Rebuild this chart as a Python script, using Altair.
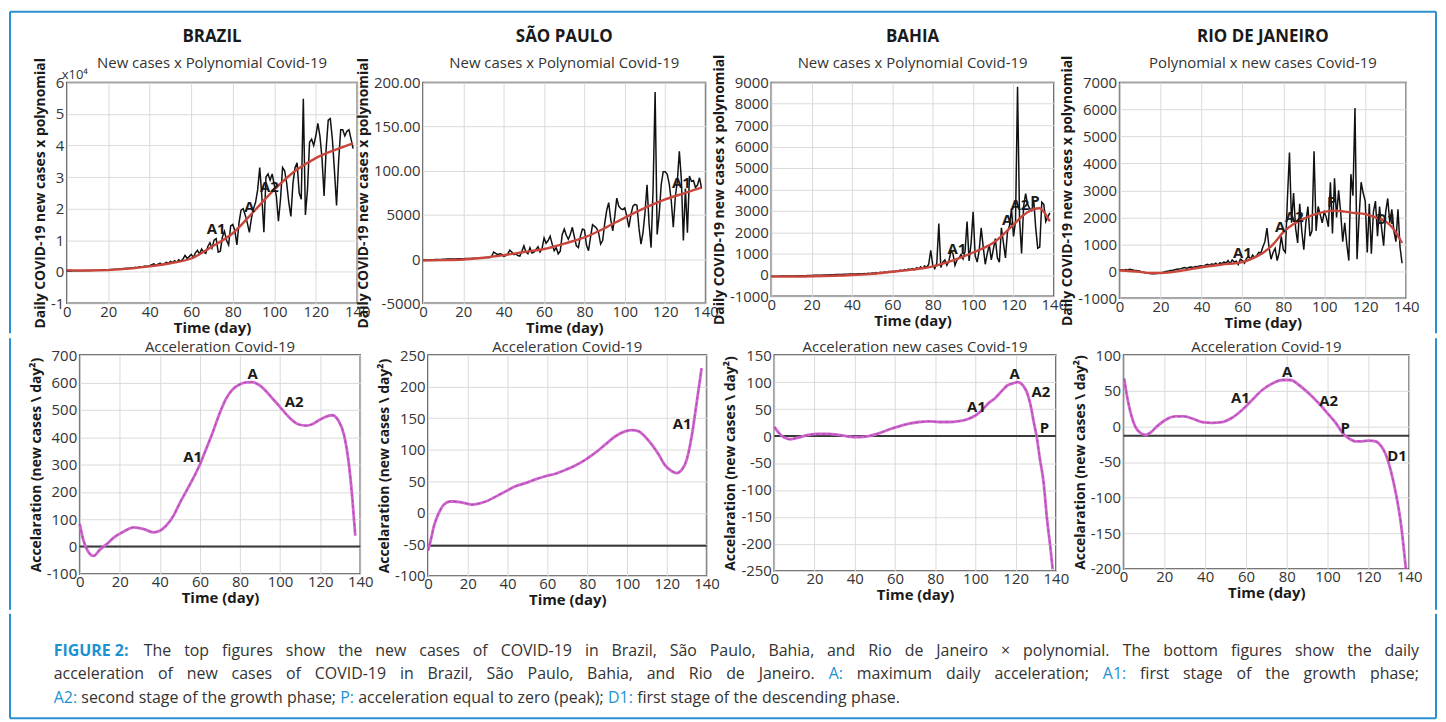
import altair as alt
import pandas as pd

FONT = "Open Sans"
TXT = "#333333"
INK = "#1a1a1a"
BLUE = "#1c92d2"
BORDER = "#2a8fd0"
MAG = "#d065d0"
RED = "#c9463d"
FRAME = "#4a4a4a"
GRID = "#dadada"

DAYS = list(range(139))
X_TICKS = [0, 20, 40, 60, 80, 100, 120, 140]

# ---------------- top row: daily new cases (black) and polynomial (red) ----------------
brazil_cases = [  # x10^4
    0.02, 0.02, 0.02, 0.03, 0.03, 0.03, 0.03, 0.03, 0.03, 0.04,
    0.04, 0.04, 0.04, 0.05, 0.05, 0.05, 0.05, 0.06, 0.06, 0.06,
    0.06, 0.07, 0.07, 0.08, 0.08, 0.09, 0.09, 0.10, 0.10, 0.11,
    0.11, 0.12, 0.12, 0.14, 0.13, 0.16, 0.15, 0.17, 0.18, 0.17,
    0.19, 0.22, 0.25, 0.21, 0.24, 0.27, 0.22, 0.26, 0.30, 0.27,
    0.33, 0.29, 0.35, 0.30, 0.38, 0.33, 0.40, 0.52, 0.42, 0.48,
    0.55, 0.45, 0.60, 0.68, 0.56, 0.72, 0.62, 0.58, 0.80, 0.92,
    0.75, 1.00, 1.05, 0.62, 0.65, 1.10, 1.28, 1.00, 0.85, 1.45,
    1.50, 1.30, 0.85, 1.55, 1.95, 2.00, 1.80, 1.55, 1.25, 1.70,
    2.00, 2.20, 2.60, 3.30, 2.40, 1.25, 3.00, 3.10, 2.90, 3.10,
    2.75, 2.40, 1.60, 2.30, 3.30, 3.20, 2.80, 2.20, 1.75, 2.80,
    3.30, 3.45, 2.50, 2.30, 5.48, 1.80, 2.60, 4.10, 4.20, 4.00,
    4.30, 4.70, 4.30, 3.60, 2.40, 3.90, 4.80, 4.85, 4.20, 3.20,
    2.10, 3.50, 4.50, 4.50, 4.30, 4.45, 4.50, 4.20, 3.90]
brazil_poly_days = [0, 10, 20, 30, 40, 50, 60, 70, 80, 90, 100, 110, 120, 130, 138]
brazil_poly = [0.05, 0.04, 0.05, 0.10, 0.17, 0.27, 0.42, 0.80, 1.22, 1.90, 2.60, 3.19, 3.60, 3.88, 4.07]

sp_cases = [
    -100, -100, -80, -80, -60, -60, -50, -40, -30, -30,
    -20, -10, 0, 0, 10, 20, 20, 30, 40, 50,
    50, 60, 70, 80, 80, 90, 100, 110, 120, 130,
    150, 170, 200, 150, 300, 800, 650, 500, 600, 550,
    300, 400, 600, 1000, 800, 500, 600, 400, 350, 900,
    1500, 800, 600, 1300, 700, 800, 1100, 1400, 800, 1200,
    2400, 1800, 2100, 2600, 1700, 950, 1300, 600, 900, 2800,
    3400, 2700, 2250, 2800, 3600, 2500, 1500, 1300, 2600, 3400,
    3300, 1600, 950, 2500, 3900, 3700, 3500, 3000, 1700, 2100,
    4000, 5500, 6400, 4500, 3200, 4800, 6900, 6000, 5700, 5600,
    5800, 4800, 3600, 5000, 6000, 6200, 6100, 3500, 1700, 3000,
    5300, 8400, 4000, 1300, 8000, 18900, 2800, 5000, 8400, 9900,
    9900, 9600, 8500, 6600, 3600, 7000, 8800, 12200, 9000, 2100,
    8000, 3000, 9400, 8800, 8900, 8100, 8400, 9200, 8000]
sp_poly_days = [0, 10, 20, 30, 40, 50, 60, 70, 80, 90, 100, 110, 120, 130, 138]
sp_poly = [-150, -120, -50, 150, 450, 800, 1150, 1750, 2450, 3500, 4700, 5800, 6750, 7500, 8100]

bahia_cases = [
    -60, -60, -60, -60, -60, -55, -55, -50, -50, -50,
    -50, -45, -45, -40, -40, -40, -35, -35, -30, -30,
    -25, -20, -20, -15, -10, -10, -5, 0, 0, 5,
    10, 10, 15, 20, 20, 25, 30, 30, 35, 40,
    40, 45, 50, 55, 60, 50, 70, 60, 80, 70,
    90, 80, 110, 90, 120, 100, 140, 120, 160, 150,
    170, 150, 200, 180, 230, 190, 250, 230, 280, 260,
    300, 240, 340, 280, 380, 300, 420, 350, 500, 1150,
    450, 300, 550, 2400, 350, 600, 700, 450, 650, 1100,
    1000, 450, 700, 800, 950, 750, 1100, 2500, 650, 1500,
    2950, 900, 600, 1150, 2200, 1300, 500, 1000, 1400, 700,
    1200, 1700, 800, 600, 2200, 1500, 800, 2000, 2300, 3100,
    1800, 2500, 8800, 2600, 1000, 3200, 3800, 3300, 3100, 3000,
    3500, 2200, 1250, 1300, 3400, 3300, 2500, 2700, 2900]
bahia_poly_days = [0, 20, 40, 50, 60, 70, 80, 90, 100, 110, 120, 125, 130, 133, 135, 138]
bahia_poly = [-80, -60, 0, 50, 150, 250, 400, 680, 1050, 1500, 2350, 2800, 3080, 3120, 2950, 2500]

rio_cases = [
    50, 60, 40, 70, 50, 80, 60, 40, 30, 20,
    0, -20, -40, -60, -70, -80, -90, -90, -80, -70,
    -60, -40, -20, 0, 10, 30, 40, 60, 80, 90,
    100, 120, 140, 110, 150, 160, 140, 180, 170, 200,
    210, 180, 240, 260, 220, 280, 250, 300, 230, 320,
    280, 350, 300, 400, 280, 420, 350, 380, 250, 450,
    400, 300, 480, 550, 450, 600, 520, 580, 700, 680,
    900, 1100, 1600, 900, 450, 700, 850, 400, 700, 1300,
    800, 700, 2700, 4400, 1800, 2900, 1600, 1050, 2500, 1500,
    800, 1800, 2400, 1300, 1500, 4450, 1500, 2400, 2100, 1800,
    2200, 2000, 1650, 3300, 1400, 3450, 2000, 3000, 2200, 1100,
    1800, 1000, 400, 3600, 2800, 6050, 450, 2000, 3300, 2900,
    2600, 700, 2500, 650, 2200, 2600, 1300, 2400, 1600, 950,
    2200, 2700, 1800, 2300, 1500, 1100, 2300, 900, 300]
rio_poly_days = [0, 10, 15, 20, 30, 40, 50, 60, 65, 70, 75, 80, 85, 90, 95, 100, 105, 110, 115, 120, 125, 130, 134, 138]
rio_poly = [30, -20, -60, -60, 20, 150, 250, 340, 480, 680, 1000, 1450, 1750, 1950, 2100, 2200, 2250, 2210, 2160, 2120, 2000, 1850, 1550, 1050]

# ---------------- bottom row: acceleration ----------------
brazil_acc_days = [0, 2, 4, 7, 10, 14, 17, 22, 27, 32, 37, 40, 43, 47, 50, 53, 57, 60, 63, 66, 70, 73, 76, 80, 83,
                   86, 90, 93, 96, 100, 103, 106, 109, 113, 116, 119, 123, 126, 129, 132, 134, 136, 137.5]
brazil_acc = [83, 20, -15, -34, -12, 12, 33, 55, 70, 64, 52, 58, 75, 115, 160, 200, 255, 300, 355, 410, 490, 540, 572, 593, 600,
              601, 588, 568, 543, 510, 484, 462, 447, 442, 447, 460, 475, 480, 462, 405, 320, 180, 40]

sp_acc_days = [0, 1.5, 3, 5.5, 8, 11, 13, 16, 19, 22, 26, 29, 33, 36, 39, 44, 49, 54, 59, 64,
               69, 74, 79, 84, 89, 94, 99, 102.5, 106, 109, 112.5, 116, 119, 122.5, 125, 127.5, 130, 132.5, 135, 137.5]
sp_acc = [-60, -42, -21, 0, 13, 18, 18, 17, 15, 13, 15, 18, 24, 29, 34, 42, 47, 53, 58, 62,
          68, 75, 84, 95, 108, 121, 129, 131, 129, 121, 108, 92, 76, 66, 63, 68, 84, 121, 174, 229]

bahia_acc_days = [0, 2.5, 5, 8, 12, 17, 22, 27, 32, 37, 42, 47, 52, 57, 62, 67, 72, 77, 82, 87,
                  91, 96, 100, 103, 106, 110, 113, 116, 119, 121, 124, 126, 127.5, 129, 130.5, 132, 134, 135.5, 137.5, 138.4]
bahia_acc = [17, 5, -3, -6, -3, 2, 4, 4, 2, -1, -2, 0, 5, 12, 18, 23, 26, 27, 26, 26,
             27, 31, 38, 47, 59, 71, 83, 94, 98, 100, 92, 77, 56, 26, -2, -41, -89, -150, -214, -247]

rio_acc_days = [0.3, 1.6, 3.3, 5.7, 8.2, 10.6, 13.1, 16.4, 20.5, 25.4, 29.5, 33.6, 38.5, 43.4, 48.3, 53.2, 58.1, 63, 68, 72.9,
                77.8, 81.9, 86, 90.9, 95.8, 100.7, 104, 107.3, 110.5, 113.8, 117.1, 120.4, 123.6, 126.1, 128.5, 131, 133.5, 135.9, 138.4]
rio_acc = [67, 44, 21, 0, -9, -12, -9, 0, 9, 14, 14, 11, 6, 5, 6, 12, 23, 37, 51, 60,
           65, 65, 58, 46, 32, 16, 5, -9, -17, -21, -21, -20, -21, -27, -39, -62, -94, -135, -200]

# black horizontal reference lines in the acceleration panels
acc_ref_lines = {"brazil": 0, "sp": -52, "bahia": 0, "rio": -13}

# ---------------- annotations (day, value, label) ----------------
brazil_top_notes = [(72, 1.36, "A1"), (88, 2.06, "A"), (97.6, 2.7, "A2")]
sp_top_notes = [(128, 8560, "A1")]
bahia_top_notes = [(92, 1220, "A1"), (116.8, 2560, "A"), (123.2, 3260, "A2"), (130.6, 3440, "P")]
rio_top_notes = [(60, 660, "A1"), (78.5, 1630, "A"), (85.4, 2000, "A2"), (103.6, 2580, "P"), (130, 1930, "D1")]
brazil_acc_notes = [(86.3, 629, "A"), (107, 530, "A2"), (56.4, 326, "A1")]
sp_acc_notes = [(127.7, 140, "A1")]
bahia_acc_notes = [(119.5, 114, "A"), (132.6, 81, "A2"), (100.5, 54, "A1"), (134.3, 14, "P")]
rio_acc_notes = [(80.2, 76, "A"), (57.3, 40, "A1"), (100.5, 36, "A2"), (108.7, -2, "P"), (134.1, -41, "D1")]

# ---------------- caption ----------------
CAPTION = [
    [("FIGURE 2:", "hlb"),
     ("The top figures show the new cases of COVID-19 in Brazil, São Paulo, Bahia, and Rio de Janeiro × polynomial. The bottom figures show the daily", "body")],
    [("acceleration of new cases of COVID-19 in Brazil, São Paulo, Bahia, and Rio de Janeiro.", "body"),
     ("A:", "hl"), ("maximum daily acceleration;", "body"), ("A1:", "hl"), ("first stage of the growth phase;", "body")],
    [("A2:", "hl"), ("second stage of the growth phase;", "body"), ("P:", "hl"),
     ("acceleration equal to zero (peak);", "body"), ("D1:", "hl"), ("first stage of the descending phase.", "body")],
]
JUSTIFY = [True, True, False]

# ======================================================================
AXIS_COMMON = dict(labelFont=FONT, labelFontSize=15, labelColor=TXT,
                   titleFont=FONT, titleFontWeight="bold", titleColor=INK,
                   grid=True, gridColor=GRID, gridWidth=1, domain=False, ticks=False,
                   labelFlush=False, labelOverlap=False, labelBound=False)
INT_EXPR = "datum.value < 0 ? '-' + abs(datum.value) : '' + datum.value"
SP_EXPR = "datum.value >= 10000 ? format(datum.value / 100, '.2f') : (" + INT_EXPR + ")"
ONE = pd.DataFrame({"k": [0]})


def encs(ydom, yticks, ytitle, label_expr=INT_EXPR):
    xa = alt.Axis(values=X_TICKS, title="Time (day)", labelPadding=1, titlePadding=1,
                  titleFontSize=15, labelExpr=INT_EXPR, **AXIS_COMMON)
    ya = alt.Axis(values=yticks, title=ytitle, labelPadding=3, titlePadding=3,
                  titleFontSize=14, labelExpr=label_expr, **AXIS_COMMON)
    x = alt.X("x:Q", scale=alt.Scale(domain=[0, 140], nice=False, zero=False), axis=xa)
    y = alt.Y("y:Q", scale=alt.Scale(domain=ydom, nice=False, zero=False), axis=ya)
    return x, y


def series(xs, ys, x, y, **mark):
    return alt.Chart(pd.DataFrame({"x": xs, "y": ys})).mark_line(**mark).encode(x=x, y=y)


def notes(items, x, y, **mark):
    df = pd.DataFrame(items, columns=["x", "y", "label"])
    style = dict(font=FONT, fontSize=15, fontWeight="bold", color=INK, baseline="middle")
    style.update(mark)
    return alt.Chart(df).mark_text(**style).encode(x=x, y=y, text="label:N")


def heading(text, x, ypx, **mark):
    # panel headings, centred on the middle of the day axis
    df = pd.DataFrame({"x": [70], "label": [text]})
    style = dict(font=FONT, fontSize=15, color=TXT, baseline="middle", align="center")
    style.update(mark)
    return alt.Chart(df).mark_text(**style).encode(x=x, y=alt.value(ypx), text="label:N")


def vrule(px, py0, py1):
    return alt.Chart(ONE).mark_rule(color=BORDER, strokeWidth=2).encode(
        x=alt.value(px), y=alt.value(py0), y2=alt.value(py1))


def hrule(px0, px1, py):
    return alt.Chart(ONE).mark_rule(color=BORDER, strokeWidth=2).encode(
        x=alt.value(px0), x2=alt.value(px1), y=alt.value(py))


def spacer(w, h):
    return alt.Chart(ONE).mark_rule(opacity=0).encode(
        x=alt.value(0), y=alt.value(0), y2=alt.value(1)
    ).properties(width=w, height=h, view=alt.ViewBackground(stroke="transparent"))


def top_panel(cases, pdays, poly, ydom, yticks, nts, region, sub, w, h, expr=INT_EXPR, extra=(), exp_note=None):
    x, y = encs(ydom, yticks, "Daily COVID-19 new cases x polynomial", expr)
    layers = [series(DAYS, cases, x, y, color="#111111", strokeWidth=1.5),
              series(pdays, poly, x, y, color=RED, strokeWidth=2.4, interpolate="monotone"),
              notes(nts, x, y),
              heading(region, x, -46, fontSize=17, fontWeight="bold", color=INK),
              heading(sub, x, -19)]
    if exp_note:
        layers.append(notes([exp_note], x, y, fontSize=13, fontWeight="normal", color=TXT,
                            align="left", dx=-5, dy=-7))
    layers += list(extra)
    return alt.layer(*layers).properties(width=w, height=h)


def bot_panel(adays, acc, ref, ydom, yticks, nts, title, w, h, extra=()):
    x, y = encs(ydom, yticks, "Accelaration (new cases \\ day²)")
    refline = alt.Chart(pd.DataFrame({"y": [ref]})).mark_rule(color="#3a3a3a", strokeWidth=2).encode(y=y)
    layers = [refline,
              series(adays, acc, x, y, color=MAG, strokeWidth=2.8, interpolate="monotone"),
              series(adays, acc, x, y, color="#5a235a", strokeWidth=0.8, strokeDash=[3, 3],
                     opacity=0.5, interpolate="monotone"),
              notes(nts, x, y),
              heading(title, x, -8)] + list(extra)
    return alt.layer(*layers).properties(width=w, height=h)


# ---------------- row 1 ----------------
r1 = [
    top_panel(brazil_cases, brazil_poly_days, brazil_poly, [-1, 6], list(range(-1, 7)), brazil_top_notes,
              "BRAZIL", "New cases x Polynomial Covid-19", 292, 222,
              extra=[hrule(-57, 1376, -71), vrule(-57, -71, 252)], exp_note=(0, 6, "x10⁴")),
    top_panel(sp_cases, sp_poly_days, sp_poly, [-5000, 20000], [-5000, 0, 5000, 10000, 15000, 20000], sp_top_notes,
              "SÃO PAULO", "New cases x Polynomial Covid-19", 284, 222, expr=SP_EXPR),
    top_panel(bahia_cases, bahia_poly_days, bahia_poly, [-1000, 9000], list(range(-1000, 9001, 1000)), bahia_top_notes,
              "BAHIA", "New cases x Polynomial Covid-19", 284, 215),
    top_panel(rio_cases, rio_poly_days, rio_poly, [-1000, 7000], list(range(-1000, 7001, 1000)), rio_top_notes,
              "RIO DE JANEIRO", "Polynomial x new cases Covid-19", 288, 217,
              extra=[vrule(318, -71, 252)]),
]
row1 = alt.hconcat(*r1, spacing=66, bounds="flush")

# ---------------- row 2 ----------------
r2 = [
    spacer(13, 220),
    bot_panel(brazil_acc_days, brazil_acc, acc_ref_lines["brazil"], [-100, 700], list(range(-100, 701, 100)),
              brazil_acc_notes, "Acceleration Covid-19", 282, 220, extra=[vrule(-70, -17, 256)]),
    spacer(68, 220),
    bot_panel(sp_acc_days, sp_acc, acc_ref_lines["sp"], [-100, 250], list(range(-100, 251, 50)),
              sp_acc_notes, "Acceleration Covid-19", 280, 222),
    spacer(68, 220),
    bot_panel(bahia_acc_days, bahia_acc, acc_ref_lines["bahia"], [-250, 150], list(range(-250, 151, 50)),
              bahia_acc_notes, "Acceleration new cases Covid-19", 283, 217),
    spacer(68, 220),
    bot_panel(rio_acc_days, rio_acc, acc_ref_lines["rio"], [-200, 100], list(range(-200, 101, 50)),
              rio_acc_notes, "Acceleration Covid-19", 287, 215, extra=[vrule(314, -17, 256)]),
]
row2 = alt.hconcat(*r2, spacing=0, bounds="flush")

# ---------------- caption ----------------
CW = {' ': .26, 'a': .556, 'b': .613, 'c': .476, 'd': .613, 'e': .561, 'f': .339, 'g': .548, 'h': .614, 'i': .253,
      'j': .253, 'k': .525, 'l': .253, 'm': .930, 'n': .614, 'o': .604, 'p': .613, 'q': .613, 'r': .408, 's': .477,
      't': .353, 'u': .614, 'v': .501, 'w': .778, 'x': .524, 'y': .502, 'z': .477, 'A': .633, 'B': .648, 'C': .631,
      'D': .729, 'E': .556, 'F': .516, 'G': .728, 'H': .738, 'I': .279, 'J': .267, 'K': .614, 'L': .519, 'M': .903,
      'N': .754, 'O': .779, 'P': .602, 'R': .618, 'S': .549, 'T': .553, 'U': .728, 'V': .593, '0': .572, '1': .572,
      '2': .572, '9': .572, '.': .266, ',': .244, ':': .266, ';': .266, '-': .322, '(': .297, ')': .297, '×': .572,
      'ã': .556}
CAP_FS = 16
CAP_X0, CAP_X1 = -13, 1359
CAP_Y = [37, 61, 85]


def tw(s, bold=False):
    return sum(CW.get(ch, .56) for ch in s) * CAP_FS * (1.07 if bold else 1.0)


rows = []
for li, segs in enumerate(CAPTION):
    # highlighted labels stay whole; body text is laid out word by word
    words = [(w, st) for text, st in segs for w in ([text] if st != "body" else text.split(" "))]
    widths = [tw(w, st == "hlb") for w, st in words]
    gap = (CAP_X1 - CAP_X0 - sum(widths)) / (len(words) - 1) if JUSTIFY[li] else tw(" ")
    cx = CAP_X0
    for (w, st), wd in zip(words, widths):
        rows.append({"px": cx, "py": CAP_Y[li], "word": w, "style": st})
        cx += wd + gap
cap_df = pd.DataFrame(rows)


def cap_text(style, color, weight):
    return alt.Chart(cap_df).transform_filter(alt.datum.style == style).mark_text(
        font=FONT, fontSize=CAP_FS, align="left", baseline="middle", color=color, fontWeight=weight
    ).encode(x=alt.X("px:Q", scale=None, axis=None), y=alt.Y("py:Q", scale=None, axis=None), text="word:N")


caption = alt.layer(
    cap_text("body", TXT, "normal"),
    cap_text("hl", BLUE, "normal"),
    cap_text("hlb", BLUE, "bold"),
    vrule(-57, 0, 105), vrule(1376, 0, 105), hrule(-57, 1376, 105),
).properties(width=1300, height=105, view=alt.ViewBackground(stroke="transparent"))

chart = alt.concat(row1, row2, caption, columns=1, align="none", spacing=0, padding=0).configure(
    font=FONT, background="white"
).configure_view(stroke=FRAME, strokeWidth=1.5)

chart.save("out.html", embed_options={"renderer": "svg", "actions": False})
